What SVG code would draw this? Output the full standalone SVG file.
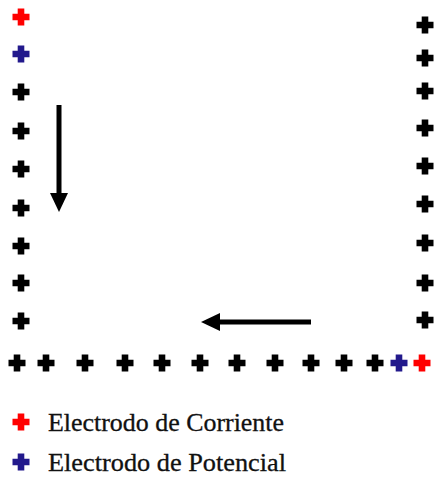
<svg xmlns="http://www.w3.org/2000/svg" xmlns:xlink="http://www.w3.org/1999/xlink" width="435" height="477" viewBox="0 0 435 477">
<style>
.k{fill:#000}
.r{fill:#ff0000}
.b{fill:#22198c}
.lbl{font-family:"Liberation Serif","Times New Roman",serif;font-size:25px;fill:#111;stroke:#111;stroke-width:0.3}
.shaft{stroke:#000;stroke-width:5;fill:none}
</style>
<defs>
<path id="cr" d="M-3.3,-8.5 h6.6 v5.2 h5.2 v6.6 h-5.2 v5.2 h-6.6 v-5.2 h-5.2 v-6.6 h5.2 z"/>
</defs>
<rect width="435" height="477" fill="#fff"/>
<g id="left-column">
<use xlink:href="#cr" class="r" x="21" y="17"/>
<use xlink:href="#cr" class="b" x="21" y="54"/>
<use xlink:href="#cr" class="k" x="21" y="92"/>
<use xlink:href="#cr" class="k" x="21" y="131"/>
<use xlink:href="#cr" class="k" x="21" y="169"/>
<use xlink:href="#cr" class="k" x="21" y="208"/>
<use xlink:href="#cr" class="k" x="21" y="246"/>
<use xlink:href="#cr" class="k" x="21" y="283"/>
<use xlink:href="#cr" class="k" x="21" y="321"/>
</g>
<g id="right-column">
<use xlink:href="#cr" class="k" x="425" y="25"/>
<use xlink:href="#cr" class="k" x="425" y="58"/>
<use xlink:href="#cr" class="k" x="425" y="91"/>
<use xlink:href="#cr" class="k" x="425" y="128"/>
<use xlink:href="#cr" class="k" x="425" y="166"/>
<use xlink:href="#cr" class="k" x="425" y="204"/>
<use xlink:href="#cr" class="k" x="425" y="243"/>
<use xlink:href="#cr" class="k" x="425" y="283"/>
<use xlink:href="#cr" class="k" x="425" y="320"/>
</g>
<g id="bottom-row">
<use xlink:href="#cr" class="k" x="17" y="363"/>
<use xlink:href="#cr" class="k" x="46" y="363"/>
<use xlink:href="#cr" class="k" x="85" y="363"/>
<use xlink:href="#cr" class="k" x="125" y="363"/>
<use xlink:href="#cr" class="k" x="162" y="363"/>
<use xlink:href="#cr" class="k" x="200" y="363"/>
<use xlink:href="#cr" class="k" x="237" y="363"/>
<use xlink:href="#cr" class="k" x="275" y="363"/>
<use xlink:href="#cr" class="k" x="311" y="363"/>
<use xlink:href="#cr" class="k" x="344" y="363"/>
<use xlink:href="#cr" class="k" x="375" y="363"/>
<use xlink:href="#cr" class="b" x="399" y="363"/>
<use xlink:href="#cr" class="r" x="422" y="363"/>
</g>
<g id="connectors">
<line class="shaft" x1="59" y1="105" x2="59" y2="195"/>
<polygon points="50,193 68,193 59,212"/>
<line class="shaft" x1="311" y1="322" x2="218" y2="322"/>
<polygon points="220,313 220,331 201,322"/>
</g>
<g id="legend-current">
<use xlink:href="#cr" class="r" x="21" y="422"/>
<text class="lbl" x="48" y="431" textLength="236" lengthAdjust="spacingAndGlyphs">Electrodo de Corriente</text>
</g>
<g id="legend-potential">
<use xlink:href="#cr" class="b" x="21" y="462"/>
<text class="lbl" x="48" y="471" textLength="238" lengthAdjust="spacingAndGlyphs">Electrodo de Potencial</text>
</g>
</svg>
